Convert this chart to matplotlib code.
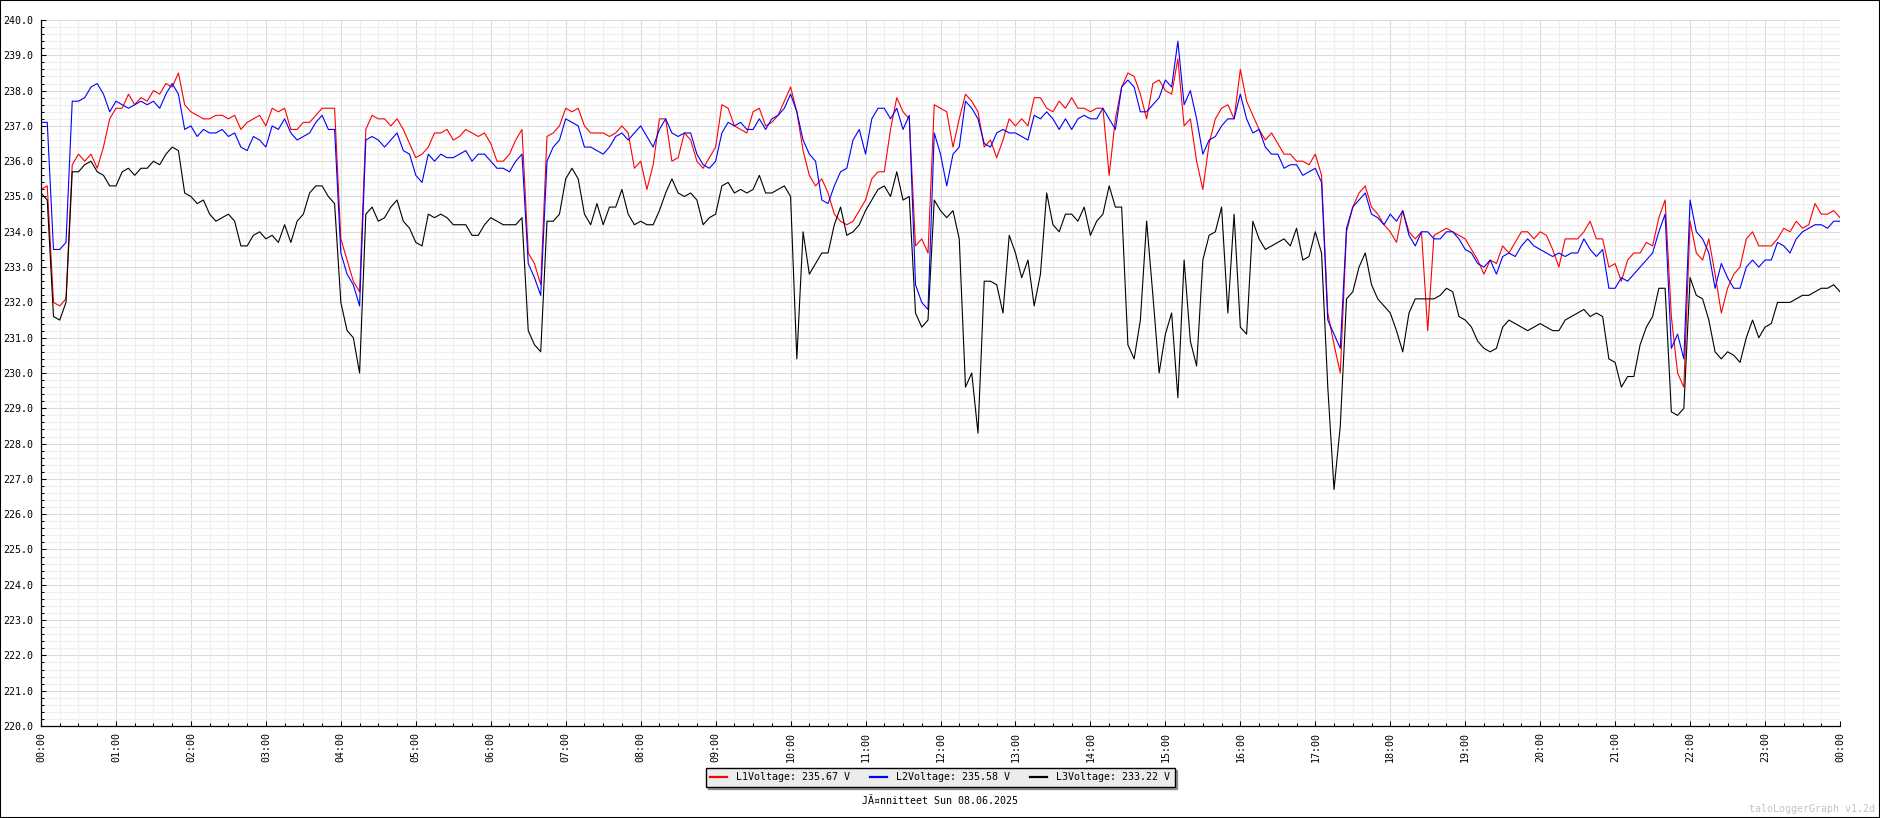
import numpy as np
import matplotlib
matplotlib.use("Agg")
import matplotlib.pyplot as plt
from matplotlib.patches import Rectangle
from matplotlib.ticker import MultipleLocator, FixedLocator

plt.rcParams['font.family'] = ['DejaVu Sans Mono', 'DejaVu Sans']

# one reading every 5 minutes, 00:00 .. 24:00
l1_voltage = [
	235.2, 235.3, 232.0, 231.9, 232.1, 235.9, 236.2, 236.0, 236.2, 235.8, 236.4, 237.2,
	237.5, 237.5, 237.9, 237.6, 237.8, 237.7, 238.0, 237.9, 238.2, 238.1, 238.5, 237.6,
	237.4, 237.3, 237.2, 237.2, 237.3, 237.3, 237.2, 237.3, 236.9, 237.1, 237.2, 237.3,
	237.0, 237.5, 237.4, 237.5, 236.9, 236.9, 237.1, 237.1, 237.3, 237.5, 237.5, 237.5,
	233.8, 233.2, 232.6, 232.3, 236.9, 237.3, 237.2, 237.2, 237.0, 237.2, 236.9, 236.5,
	236.1, 236.2, 236.4, 236.8, 236.8, 236.9, 236.6, 236.7, 236.9, 236.8, 236.7, 236.8,
	236.5, 236.0, 236.0, 236.2, 236.6, 236.9, 233.4, 233.1, 232.5, 236.7, 236.8, 237.0,
	237.5, 237.4, 237.5, 237.0, 236.8, 236.8, 236.8, 236.7, 236.8, 237.0, 236.8, 235.8,
	236.0, 235.2, 235.9, 237.2, 237.2, 236.0, 236.1, 236.8, 236.6, 236.0, 235.8, 236.1,
	236.4, 237.6, 237.5, 237.0, 236.9, 236.8, 237.4, 237.5, 237.0, 237.1, 237.3, 237.7,
	238.1, 237.4, 236.3, 235.6, 235.3, 235.5, 235.1, 234.5, 234.3, 234.2, 234.3, 234.6,
	234.9, 235.5, 235.7, 235.7, 236.9, 237.8, 237.4, 237.2, 233.6, 233.8, 233.4, 237.6,
	237.5, 237.4, 236.4, 237.2, 237.9, 237.7, 237.4, 236.4, 236.6, 236.1, 236.6, 237.2,
	237.0, 237.2, 237.0, 237.8, 237.8, 237.5, 237.4, 237.7, 237.5, 237.8, 237.5, 237.5,
	237.4, 237.5, 237.5, 235.6, 237.2, 238.1, 238.5, 238.4, 237.9, 237.2, 238.2, 238.3,
	238.0, 237.9, 238.9, 237.0, 237.2, 236.0, 235.2, 236.5, 237.2, 237.5, 237.6, 237.2,
	238.6, 237.7, 237.3, 236.9, 236.6, 236.8, 236.5, 236.2, 236.2, 236.0, 236.0, 235.9,
	236.2, 235.6, 231.7, 230.8, 230.0, 234.0, 234.7, 235.1, 235.3, 234.7, 234.5, 234.2,
	234.0, 233.7, 234.6, 234.0, 233.8, 234.0, 231.2, 233.9, 234.0, 234.1, 234.0, 233.9,
	233.8, 233.5, 233.2, 232.8, 233.2, 233.1, 233.6, 233.4, 233.7, 234.0, 234.0, 233.8,
	234.0, 233.9, 233.5, 233.0, 233.8, 233.8, 233.8, 234.0, 234.3, 233.8, 233.8, 233.0,
	233.1, 232.6, 233.2, 233.4, 233.4, 233.7, 233.6, 234.4, 234.9, 231.6, 230.0, 229.6,
	234.3, 233.4, 233.2, 233.8, 232.8, 231.7, 232.4, 232.8, 233.0, 233.8, 234.0, 233.6,
	233.6, 233.6, 233.8, 234.1, 234.0, 234.3, 234.1, 234.2, 234.8, 234.5, 234.5, 234.6,
	234.4,
]
l2_voltage = [
	237.1, 237.1, 233.5, 233.5, 233.7, 237.7, 237.7, 237.8, 238.1, 238.2, 237.9, 237.4,
	237.7, 237.6, 237.5, 237.6, 237.7, 237.6, 237.7, 237.5, 237.9, 238.2, 237.9, 236.9,
	237.0, 236.7, 236.9, 236.8, 236.8, 236.9, 236.7, 236.8, 236.4, 236.3, 236.7, 236.6,
	236.4, 237.0, 236.9, 237.2, 236.8, 236.6, 236.7, 236.8, 237.1, 237.3, 236.9, 236.9,
	233.4, 232.8, 232.5, 231.9, 236.6, 236.7, 236.6, 236.4, 236.6, 236.8, 236.3, 236.2,
	235.6, 235.4, 236.2, 236.0, 236.2, 236.1, 236.1, 236.2, 236.3, 236.0, 236.2, 236.2,
	236.0, 235.8, 235.8, 235.7, 236.0, 236.2, 233.1, 232.7, 232.2, 236.0, 236.4, 236.6,
	237.2, 237.1, 237.0, 236.4, 236.4, 236.3, 236.2, 236.4, 236.7, 236.8, 236.6, 236.8,
	237.0, 236.7, 236.4, 236.9, 237.2, 236.8, 236.7, 236.8, 236.8, 236.2, 235.9, 235.8,
	236.0, 236.8, 237.1, 237.0, 237.1, 236.9, 236.9, 237.2, 236.9, 237.2, 237.3, 237.5,
	237.9, 237.4, 236.6, 236.2, 236.0, 234.9, 234.8, 235.3, 235.7, 235.8, 236.6, 236.9,
	236.2, 237.2, 237.5, 237.5, 237.2, 237.5, 236.9, 237.3, 232.5, 232.0, 231.8, 236.8,
	236.2, 235.3, 236.2, 236.4, 237.7, 237.5, 237.2, 236.5, 236.4, 236.8, 236.9, 236.8,
	236.8, 236.7, 236.6, 237.3, 237.2, 237.4, 237.2, 236.9, 237.2, 236.9, 237.2, 237.3,
	237.2, 237.2, 237.5, 237.2, 236.9, 238.1, 238.3, 238.1, 237.4, 237.4, 237.6, 237.8,
	238.3, 238.1, 239.4, 237.6, 238.0, 237.2, 236.2, 236.6, 236.7, 237.0, 237.2, 237.2,
	237.9, 237.2, 236.8, 236.9, 236.4, 236.2, 236.2, 235.8, 235.9, 235.9, 235.6, 235.7,
	235.8, 235.4, 231.5, 231.1, 230.7, 234.1, 234.7, 234.9, 235.1, 234.5, 234.4, 234.2,
	234.5, 234.3, 234.6, 233.9, 233.6, 234.0, 234.0, 233.8, 233.8, 234.0, 234.0, 233.8,
	233.5, 233.4, 233.1, 233.0, 233.2, 232.8, 233.3, 233.4, 233.3, 233.6, 233.8, 233.6,
	233.5, 233.4, 233.3, 233.4, 233.3, 233.4, 233.4, 233.8, 233.5, 233.3, 233.5, 232.4,
	232.4, 232.7, 232.6, 232.8, 233.0, 233.2, 233.4, 234.0, 234.5, 230.7, 231.1, 230.4,
	234.9, 234.0, 233.8, 233.4, 232.4, 233.1, 232.7, 232.4, 232.4, 233.0, 233.2, 233.0,
	233.2, 233.2, 233.7, 233.6, 233.4, 233.8, 234.0, 234.1, 234.2, 234.2, 234.1, 234.3,
	234.3,
]
l3_voltage = [
	235.1, 234.9, 231.6, 231.5, 232.0, 235.7, 235.7, 235.9, 236.0, 235.7, 235.6, 235.3,
	235.3, 235.7, 235.8, 235.6, 235.8, 235.8, 236.0, 235.9, 236.2, 236.4, 236.3, 235.1,
	235.0, 234.8, 234.9, 234.5, 234.3, 234.4, 234.5, 234.3, 233.6, 233.6, 233.9, 234.0,
	233.8, 233.9, 233.7, 234.2, 233.7, 234.3, 234.5, 235.1, 235.3, 235.3, 235.0, 234.8,
	232.0, 231.2, 231.0, 230.0, 234.5, 234.7, 234.3, 234.4, 234.7, 234.9, 234.3, 234.1,
	233.7, 233.6, 234.5, 234.4, 234.5, 234.4, 234.2, 234.2, 234.2, 233.9, 233.9, 234.2,
	234.4, 234.3, 234.2, 234.2, 234.2, 234.4, 231.2, 230.8, 230.6, 234.3, 234.3, 234.5,
	235.5, 235.8, 235.5, 234.5, 234.2, 234.8, 234.2, 234.7, 234.7, 235.2, 234.5, 234.2,
	234.3, 234.2, 234.2, 234.6, 235.1, 235.5, 235.1, 235.0, 235.1, 234.9, 234.2, 234.4,
	234.5, 235.3, 235.4, 235.1, 235.2, 235.1, 235.2, 235.6, 235.1, 235.1, 235.2, 235.3,
	235.0, 230.4, 234.0, 232.8, 233.1, 233.4, 233.4, 234.2, 234.7, 233.9, 234.0, 234.2,
	234.6, 234.9, 235.2, 235.3, 235.0, 235.7, 234.9, 235.0, 231.7, 231.3, 231.5, 234.9,
	234.6, 234.4, 234.6, 233.8, 229.6, 230.0, 228.3, 232.6, 232.6, 232.5, 231.7, 233.9,
	233.4, 232.7, 233.2, 231.9, 232.8, 235.1, 234.2, 234.0, 234.5, 234.5, 234.3, 234.7,
	233.9, 234.3, 234.5, 235.3, 234.7, 234.7, 230.8, 230.4, 231.5, 234.3, 232.2, 230.0,
	231.1, 231.7, 229.3, 233.2, 230.9, 230.2, 233.2, 233.9, 234.0, 234.7, 231.7, 234.5,
	231.3, 231.1, 234.3, 233.8, 233.5, 233.6, 233.7, 233.8, 233.6, 234.1, 233.2, 233.3,
	234.0, 233.4, 229.6, 226.7, 228.5, 232.1, 232.3, 233.0, 233.4, 232.5, 232.1, 231.9,
	231.7, 231.2, 230.6, 231.7, 232.1, 232.1, 232.1, 232.1, 232.2, 232.4, 232.3, 231.6,
	231.5, 231.3, 230.9, 230.7, 230.6, 230.7, 231.3, 231.5, 231.4, 231.3, 231.2, 231.3,
	231.4, 231.3, 231.2, 231.2, 231.5, 231.6, 231.7, 231.8, 231.6, 231.7, 231.6, 230.4,
	230.3, 229.6, 229.9, 229.9, 230.8, 231.3, 231.6, 232.4, 232.4, 228.9, 228.8, 229.0,
	232.7, 232.2, 232.1, 231.5, 230.6, 230.4, 230.6, 230.5, 230.3, 231.0, 231.5, 231.0,
	231.3, 231.4, 232.0, 232.0, 232.0, 232.1, 232.2, 232.2, 232.3, 232.4, 232.4, 232.5,
	232.3,
]
series_names = ["L1Voltage: 235.67 V", "L2Voltage: 235.58 V", "L3Voltage: 233.22 V"]
series_colors = ["#ff0000", "#0000ff", "#000000"]
hour_labels = ["%02d:00" % h for h in range(24)] + ["00:00"]
title = "JÃ¤nnitteet Sun 08.06.2025"
watermark = "taloLoggerGraph v1.2d"

hours = np.arange(len(l1_voltage)) * 5 / 60.0
fs = 7.2

fig = plt.figure(figsize=(18.8, 8.18), dpi=100)
fig.patch.set_facecolor("white")
ax = fig.add_axes([41/1880, 1-726/818, (1840-41)/1880, (726-20)/818])

for vals, name, col in zip([l1_voltage, l2_voltage, l3_voltage], series_names, series_colors):
	ax.plot(hours, vals, color=col, lw=0.8, label=name)

ax.set_xlim(0, 24)
ax.set_ylim(220, 240)
ax.xaxis.set_major_locator(FixedLocator(range(25)))
ax.set_xticklabels(hour_labels, rotation=90, fontsize=fs)
ax.xaxis.set_minor_locator(MultipleLocator(0.25))
ax.yaxis.set_major_locator(MultipleLocator(1))
ax.yaxis.set_minor_locator(MultipleLocator(0.2))
ax.yaxis.set_major_formatter(plt.FormatStrFormatter("%.1f"))
for lab in ax.get_yticklabels():
	lab.set_fontsize(fs)

ax.set_axisbelow(True)
ax.grid(which="major", color="#dcdcdc", lw=0.8)
ax.grid(which="minor", color="#efefef", lw=0.8)
ax.tick_params(which="both", direction="in", width=0.75, colors="black")
ax.tick_params(which="major", length=3.6)
ax.tick_params(which="minor", length=2.2)
ax.tick_params(axis="y", which="major", pad=5.5, labelsize=fs)
ax.tick_params(axis="x", which="major", pad=4.3, labelsize=fs)
ax.spines["top"].set_visible(False)
ax.spines["right"].set_visible(False)
ax.spines["left"].set_linewidth(0.9)
ax.spines["bottom"].set_linewidth(0.9)

leg = fig.legend(loc="center", bbox_to_anchor=(0.5, 1-777/818), ncol=3, fontsize=fs,
	frameon=True, fancybox=False, shadow=True, handlelength=1.7, handletextpad=0.9,
	columnspacing=2.0, borderpad=0.45)
leg.get_frame().set_facecolor("#ececec")
leg.get_frame().set_edgecolor("black")
leg.get_frame().set_linewidth(1.0)
for line in leg.get_lines():
	line.set_linewidth(1.6)

fig.text(0.5, 1-801/818, title, ha="center", va="center", fontsize=fs)
fig.text(1875/1880, 1-809/818, watermark, ha="right", va="center", fontsize=fs, color="#c4c4c4")

fig.add_artist(Rectangle((0, 0), 1, 1, transform=fig.transFigure, fill=False,
	edgecolor="black", lw=1.5))

fig.savefig("out.png", dpi=100)
